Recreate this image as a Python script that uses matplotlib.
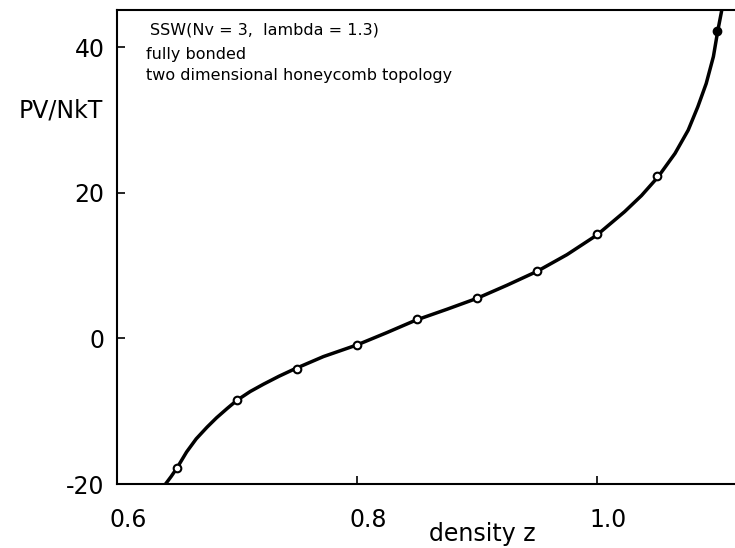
import matplotlib
matplotlib.use("Agg")
import matplotlib.pyplot as plt
from matplotlib.transforms import ScaledTranslation

# Measured data points (density z, PV/NkT)
pt_x = [0.65, 0.70, 0.75, 0.80, 0.85, 0.90, 0.95, 1.00, 1.05]
pt_y = [-17.8, -8.4, -4.2, -0.9, 2.6, 5.5, 9.2, 14.3, 22.3]
# filled point
fill_x = [1.10]
fill_y = [42.2]

# Smooth theoretical curve
curve_x = [0.640, 0.645, 0.650, 0.658, 0.666, 0.675, 0.683, 0.692, 0.700,
           0.711, 0.722, 0.735, 0.748, 0.772, 0.800, 0.825, 0.849, 0.875,
           0.900, 0.925, 0.950, 0.975, 1.000, 1.023, 1.037, 1.051, 1.065,
           1.076, 1.084, 1.091, 1.097, 1.1006, 1.104]
curve_y = [-20.1, -19.0, -17.8, -15.6, -13.8, -12.2, -10.9, -9.6, -8.5,
           -7.3, -6.3, -5.2, -4.2, -2.5, -0.9, 0.8, 2.5, 4.0,
           5.5, 7.3, 9.2, 11.5, 14.2, 17.4, 19.6, 22.2, 25.4,
           28.6, 31.8, 35.0, 38.7, 42.2, 45.1]

x_ticks = [0.6, 0.8, 1.0]
x_ticklabels = ["0.6", "0.8", "1.0"]
y_ticks = [-20, 0, 20, 40]
y_ticklabels = ["-20", "0", "20", "40"]

annotation = ["SSW(Nv = 3,  lambda = 1.3)",
              "fully bonded",
              "two dimensional honeycomb topology"]

W, H = 735, 548
fig = plt.figure(figsize=(W / 100, H / 100), dpi=100)
ax = fig.add_axes([117 / W, 64 / H, (W - 117) / W, 474 / H])

ax.plot(curve_x, curve_y, color="black", lw=2.5, solid_capstyle="round",
        solid_joinstyle="round", zorder=2)
ax.plot(pt_x, pt_y, linestyle="none", marker="o", markersize=5.5,
        markerfacecolor="white", markeredgecolor="black", markeredgewidth=1.5,
        zorder=3)
ax.plot(fill_x, fill_y, linestyle="none", marker="o", markersize=6,
        color="black", zorder=3)

ax.set_xlim(0.6, 1.115)
ax.set_ylim(-20, 45.1)

ax.spines["right"].set_visible(False)
for s in ["left", "bottom", "top"]:
    ax.spines[s].set_linewidth(1.5)

ax.set_xticks(x_ticks)
ax.set_xticklabels(x_ticklabels)
ax.set_yticks(y_ticks)
ax.set_yticklabels(y_ticklabels)
ax.tick_params(axis="x", direction="in", length=6, width=1.2, pad=17,
               labelsize=17)
ax.tick_params(axis="y", direction="in", length=6, width=1.2, pad=9,
               labelsize=17)

off = ScaledTranslation(11 / 100, 0, fig.dpi_scale_trans)
for lab in ax.get_xticklabels():
    lab.set_transform(lab.get_transform() + off)

fig.text(482 / W, 1 - 534 / H, "density z", fontsize=17, ha="center",
         va="center")
fig.text(61 / W, 1 - 111 / H, "PV/NkT", fontsize=17, ha="center",
         va="center")

ys = [30, 55, 76]
xs = [150, 146, 146]
for t, xx, yy in zip(annotation, xs, ys):
    fig.text(xx / W, 1 - yy / H, t, fontsize=11.5, ha="left", va="center")

fig.savefig("out.png", dpi=100)
